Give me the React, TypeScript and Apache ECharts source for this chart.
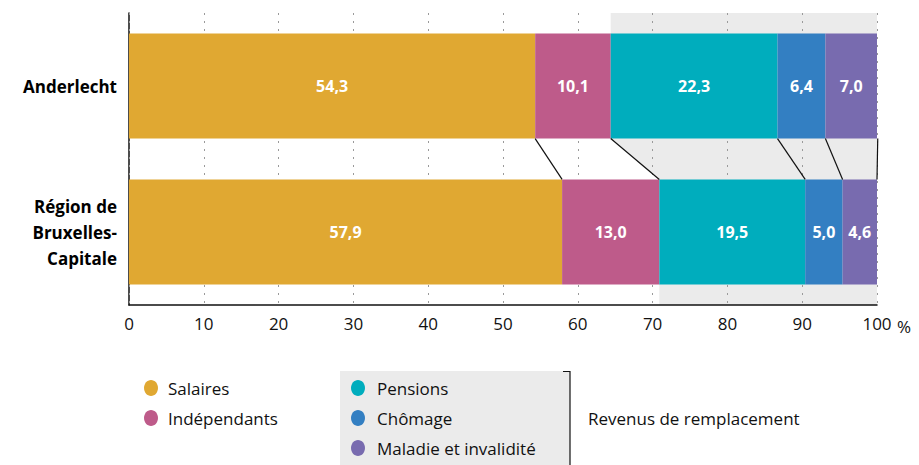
import React, { useEffect, useRef } from "react";
import * as echarts from "echarts";

const categories = ["Anderlecht", "Région de\nBruxelles-\nCapitale"];
const seriesNames = ["Salaires", "Indépendants", "Pensions", "Chômage", "Maladie et invalidité"];
const salaires = [54.3, 57.9];
const independants = [10.1, 13.0];
const pensions = [22.3, 19.5];
const chomage = [6.4, 5.0];
const maladie = [7.0, 4.6];
const seriesColors = ["#E0A832", "#BE5B8A", "#00ADBD", "#337FC2", "#786BAF"];
const xTicks = [0, 10, 20, 30, 40, 50, 60, 70, 80, 90, 100];
const groupTitle = "Revenus de remplacement";

const FONT = "'Open Sans', 'Noto Sans', sans-serif";
const BAR_RATIO = 0.72;

export default function App() {
  const ref = useRef<HTMLDivElement>(null);
  useEffect(() => {
    if (!ref.current) return;
    const chart = echarts.init(ref.current, undefined, { renderer: "svg" });
    const values = [salaires, independants, pensions, chomage, maladie];
    const cum = (ci: number, k: number) => {
      let s = 0;
      for (let i = 0; i <= k; i++) s += values[i][ci];
      return s;
    };
    const fmt = (v: number) => v.toFixed(1).replace(".", ",");

    const barSeries = seriesNames.map((name, i) => ({
      name,
      type: "bar",
      stack: "total",
      barWidth: `${BAR_RATIO * 100}%`,
      z: 2,
      itemStyle: { color: seriesColors[i] },
      label: {
        show: true,
        position: "inside",
        color: "#fff",
        fontFamily: FONT,
        fontWeight: "bold",
        fontSize: 16,
        formatter: (p: any) => fmt(p.value),
      },
      data: values[i],
    }));

    const greySeries = {
      type: "custom",
      z: 0,
      silent: true,
      clip: false,
      data: [[0, 0]],
      renderItem: (params: any, api: any) => {
        const cs = params.coordSys;
        const half = (api.size([0, 1])[1] * BAR_RATIO) / 2;
        const a = cum(0, 1);
        const b = cum(1, 1);
        const yA = api.coord([0, 0])[1];
        const yB = api.coord([0, 1])[1];
        const xa = api.coord([a, 0])[0];
        const xb = api.coord([b, 1])[0];
        const x100 = api.coord([100, 0])[0];
        const top = cs.y;
        const bottom = cs.y + cs.height;
        return {
          type: "polygon",
          shape: {
            points: [
              [xa, top],
              [x100, top],
              [x100, bottom],
              [xb, bottom],
              [xb, yB - half],
              [xa, yA + half],
            ],
          },
          style: { fill: "#EBEBEB" },
        };
      },
    };

    const linkSeries = {
      type: "custom",
      z: 3,
      silent: true,
      clip: false,
      data: [[0, 0]],
      renderItem: (params: any, api: any) => {
        const half = (api.size([0, 1])[1] * BAR_RATIO) / 2;
        const yA = api.coord([0, 0])[1] + half;
        const yB = api.coord([0, 1])[1] - half;
        const children = seriesNames.map((_, k) => ({
          type: "line",
          shape: {
            x1: api.coord([cum(0, k), 0])[0],
            y1: yA,
            x2: api.coord([cum(1, k), 1])[0],
            y2: yB,
          },
          style: { stroke: "#111", lineWidth: 1.2 },
        }));
        return { type: "group", children };
      },
    };

    const legendLeft = [0, 1];
    const legendRight = [2, 3, 4];
    const graphic: any[] = [
      { type: "rect", shape: { x: 340, y: 371, width: 230, height: 94 }, style: { fill: "#EBEBEB" }, z: 0 },
      {
        type: "polyline",
        shape: { points: [[563, 371.5], [570, 371.5], [570, 465]] },
        style: { stroke: "#111", lineWidth: 1.2, fill: null },
      },
      {
        type: "text",
        x: 588,
        y: 418,
        style: { text: groupTitle, fontFamily: FONT, fontSize: 17, fill: "#111", verticalAlign: "middle" },
      },
      {
        type: "text",
        x: 897,
        y: 326,
        style: { text: "%", fontFamily: FONT, fontSize: 17, fill: "#111", verticalAlign: "middle" },
      },
    ];
    legendLeft.forEach((idx, j) => {
      const y = 388 + j * 30;
      graphic.push({ type: "ellipse", shape: { cx: 151, cy: y, rx: 7, ry: 8 }, style: { fill: seriesColors[idx] } });
      graphic.push({
        type: "text",
        x: 168,
        y,
        style: { text: seriesNames[idx], fontFamily: FONT, fontSize: 17, fill: "#111", verticalAlign: "middle" },
      });
    });
    legendRight.forEach((idx, j) => {
      const y = 388 + j * 30;
      graphic.push({ type: "ellipse", shape: { cx: 358, cy: y, rx: 7, ry: 8 }, style: { fill: seriesColors[idx] } });
      graphic.push({
        type: "text",
        x: 377,
        y,
        style: { text: seriesNames[idx], fontFamily: FONT, fontSize: 17, fill: "#111", verticalAlign: "middle" },
      });
    });

    chart.setOption({
      animation: false,
      grid: { left: 129, right: 42, top: 13, bottom: 160, containLabel: false },
      xAxis: {
        type: "value",
        min: 0,
        max: 100,
        interval: 10,
        z: 1,
        axisLine: { show: true, onZero: false, lineStyle: { color: "#111", width: 1.5 } },
        axisTick: { show: false },
        axisLabel: {
          margin: 10,
          fontFamily: FONT,
          fontSize: 17,
          color: "#111",
          formatter: (v: number) => (xTicks.includes(v) ? String(v) : ""),
        },
        splitLine: { show: true, lineStyle: { color: "#9a9a9a", type: [2, 6], width: 1 } },
      },
      yAxis: {
        type: "category",
        data: categories,
        inverse: true,
        axisLine: { show: true, lineStyle: { color: "#111", width: 1.5 } },
        axisTick: { show: false },
        axisLabel: {
          margin: 12,
          fontFamily: FONT,
          fontSize: 17,
          fontWeight: "bold",
          color: "#000",
          lineHeight: 26,
          align: "right",
        },
      },
      series: [greySeries, ...barSeries, linkSeries],
      graphic,
    } as any);
    return () => chart.dispose();
  }, []);
  return <div ref={ref} style={{ position: "absolute", left: 0, top: 0, width: 919, height: 465 }} />;
}
